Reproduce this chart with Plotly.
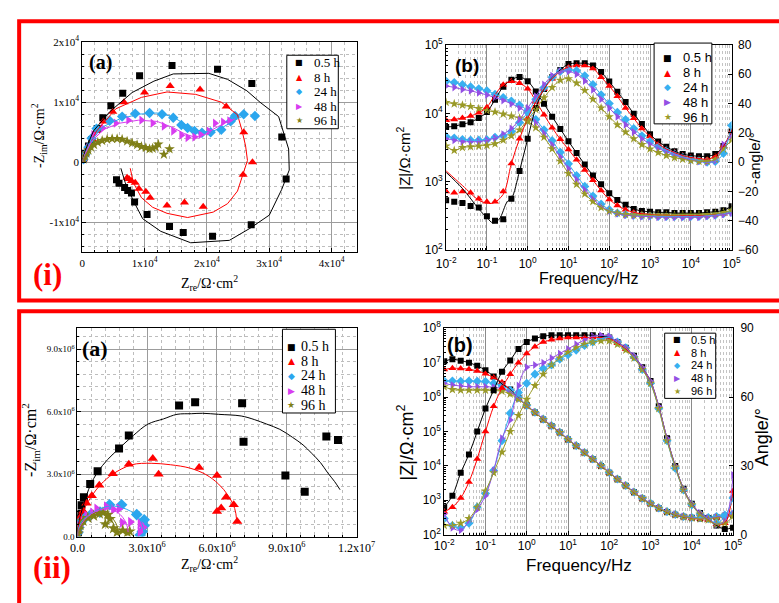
import plotly.graph_objects as go

W, H = 779, 603


def fx(p):
    return p / W


def fy(p):
    return 1 - p / H


SERIES = ["0.5 h", "8 h", "24 h", "48 h", "96 h"]
SYMBOLS = ["square", "triangle-up", "diamond", "triangle-right", "star"]
GLYPHS = ["\u25A0", "\u25B2", "\u25C6", "\u25B6", "\u2605"]
COL_A = ["#000000", "#FF0000", "#2BA6EE", "#D83CF0", "#7F7F18"]
COL_B = ["#000000", "#FF0000", "#38B0F0", "#9450E4", "#9A9A28"]
SERIF = "Liberation Serif, Times New Roman, serif"
SANS = "Liberation Sans, Arial, sans-serif"

# ---------------- (i)(a) Nyquist, values in 1e4 ohm cm2 ----------------
IA_BLACK_ZRE = [0.02, 0.05, 0.10, 0.15, 0.24, 0.33, 0.46, 0.65, 0.92, 1.44, 2.17, 2.72, 3.20, 3.27, 2.71, 2.09, 1.62, 1.40, 1.04, 0.84, 0.79, 0.73, 0.68, 0.59, 0.55]
IA_BLACK_ZIM = [0.06, 0.15, 0.27, 0.38, 0.56, 0.74, 0.94, 1.15, 1.44, 1.61, 1.55, 1.31, 0.42, -0.28, -1.04, -1.23, -1.17, -1.07, -0.87, -0.66, -0.51, -0.47, -0.42, -0.35, -0.29]
IA_RED_ZRE = [0.02, 0.05, 0.10, 0.17, 0.23, 0.34, 0.49, 0.67, 1.00, 1.41, 1.89, 2.31, 2.59, 2.73, 2.58, 1.94, 1.64, 1.36, 1.09, 1.02, 0.91, 0.85, 0.79, 0.75, 0.72]
IA_RED_ZIM = [0.05, 0.14, 0.25, 0.38, 0.52, 0.68, 0.84, 1.00, 1.16, 1.27, 1.21, 0.93, 0.50, 0.00, -0.21, -0.74, -0.67, -0.72, -0.59, -0.49, -0.44, -0.34, -0.31, -0.28, -0.26]
IA_CYAN_ZRE = [0.02, 0.05, 0.10, 0.15, 0.23, 0.44, 0.64, 0.85, 1.08, 1.28, 1.46, 1.59, 1.69, 1.80, 1.92, 2.06, 2.23, 2.38, 2.45, 2.59, 2.77]
IA_CYAN_ZIM = [0.05, 0.13, 0.25, 0.40, 0.56, 0.69, 0.76, 0.81, 0.82, 0.80, 0.74, 0.62, 0.57, 0.52, 0.49, 0.50, 0.54, 0.68, 0.77, 0.80, 0.77]
IA_MAG_ZRE = [0.02, 0.05, 0.10, 0.18, 0.33, 0.54, 0.74, 0.95, 1.13, 1.31, 1.46, 1.59, 1.69, 1.80, 1.90, 2.03, 2.13, 2.26, 2.36]
IA_MAG_ZIM = [0.05, 0.12, 0.24, 0.46, 0.57, 0.65, 0.70, 0.70, 0.65, 0.60, 0.52, 0.45, 0.41, 0.42, 0.46, 0.52, 0.65, 0.67, 0.69]
IA_OLIVE_ZRE = [0.02, 0.04, 0.07, 0.10, 0.14, 0.19, 0.25, 0.32, 0.40, 0.48, 0.56, 0.64, 0.72, 0.80, 0.88, 0.95, 1.02, 1.08, 1.13, 1.18, 1.22, 1.31, 1.40]
IA_OLIVE_ZIM = [0.05, 0.10, 0.15, 0.20, 0.25, 0.29, 0.33, 0.36, 0.38, 0.39, 0.39, 0.38, 0.35, 0.32, 0.29, 0.26, 0.24, 0.22, 0.23, 0.25, 0.30, 0.13, 0.22]

FIT_IA_BLACK_ZRE = [0, 0.05, 0.18, 0.44, 0.80, 1.15, 1.46, 2.03, 2.33, 2.64, 2.85, 3.15, 3.31, 3.32, 3.20, 3.00, 2.69, 2.36, 1.74, 1.26, 0.97, 0.82, 0.69, 0.62]
FIT_IA_BLACK_ZIM = [0, 0.20, 0.52, 0.84, 1.16, 1.35, 1.47, 1.48, 1.38, 1.19, 1.00, 0.76, 0.22, -0.13, -0.45, -0.88, -1.10, -1.30, -1.34, -1.15, -0.94, -0.64, -0.34, -0.10]
FIT_IA_RED_ZRE = [0, 0.08, 0.23, 0.54, 0.95, 1.36, 1.82, 2.23, 2.49, 2.56, 2.62, 2.65, 2.49, 2.33, 2.10, 1.69, 1.36, 1.13, 0.95, 0.82, 0.77]
FIT_IA_RED_ZIM = [0, 0.22, 0.52, 0.89, 1.08, 1.17, 1.13, 1.00, 0.79, 0.54, 0.27, 0.03, -0.48, -0.69, -0.83, -0.92, -0.85, -0.75, -0.59, -0.34, -0.10]
FIT_IA_CYAN_ZRE = [0, 0.05, 0.15, 0.35, 0.60, 0.90, 1.20, 1.45, 1.65, 1.85, 2.05, 2.25, 2.45, 2.65]
FIT_IA_CYAN_ZIM = [0, 0.15, 0.38, 0.60, 0.72, 0.80, 0.82, 0.76, 0.63, 0.53, 0.50, 0.58, 0.70, 0.81]
FIT_IA_MAG_ZRE = [0, 0.05, 0.15, 0.35, 0.60, 0.90, 1.20, 1.45, 1.65, 1.80, 1.95, 2.10, 2.30, 2.45]
FIT_IA_MAG_ZIM = [0, 0.14, 0.35, 0.55, 0.65, 0.70, 0.68, 0.58, 0.47, 0.42, 0.45, 0.55, 0.66, 0.72]
FIT_IA_OLIVE_ZRE = [0, 0.04, 0.10, 0.20, 0.40, 0.60, 0.80, 1.00, 1.10, 1.20, 1.25]
FIT_IA_OLIVE_ZIM = [0, 0.10, 0.20, 0.30, 0.38, 0.39, 0.33, 0.25, 0.22, 0.27, 0.32]

# ---------------- (ii)(a) Nyquist, values in 1e6 ohm cm2 ----------------
IIA_BLACK_ZRE = [0.02, 0.04, 0.08, 0.11, 0.17, 0.28, 0.55, 0.87, 1.79, 2.21, 4.37, 5.06, 7.08, 7.14, 8.94, 9.77, 10.70, 11.20]
IIA_BLACK_ZIM = [0.20, 0.50, 0.87, 1.10, 1.50, 1.89, 2.52, 3.14, 4.23, 4.85, 6.29, 6.45, 6.40, 4.55, 2.93, 2.15, 4.81, 4.64]
IIA_RED_ZRE = [0.03, 0.07, 0.14, 0.25, 0.39, 0.62, 0.94, 1.52, 2.21, 3.24, 3.49, 5.23, 6.00, 6.00, 6.18, 6.39, 6.72, 6.87]
IIA_RED_ZIM = [0.30, 0.64, 0.95, 1.22, 1.60, 1.96, 2.46, 3.02, 3.47, 3.75, 2.99, 3.32, 2.93, 1.21, 1.37, 1.89, 1.53, 0.73]
IIA_CYAN_ZRE = [0.02, 0.06, 0.15, 0.30, 0.55, 0.97, 1.38, 1.90, 2.55, 2.87, 2.87, 2.79, 2.70]
IIA_CYAN_ZIM = [0.20, 0.45, 0.70, 0.88, 1.03, 1.18, 1.53, 1.53, 1.06, 0.81, 0.53, 0.25, 0.08]
IIA_MAG_ZRE = [0.03, 0.08, 0.20, 0.40, 0.65, 0.83, 1.24, 1.55, 1.79, 1.93, 2.28, 2.69, 2.83, 2.69]
IIA_MAG_ZIM = [0.20, 0.50, 0.80, 1.00, 1.15, 1.34, 1.45, 1.30, 1.34, 0.67, 0.70, 0.62, 0.45, 0.23]
IIA_OLIVE_ZRE = [0.02, 0.06, 0.12, 0.25, 0.45, 0.70, 0.95, 1.10, 1.30, 1.40, 1.20, 1.55, 1.70, 1.95, 2.15, 2.25]
IIA_OLIVE_ZIM = [0.15, 0.35, 0.55, 0.75, 0.90, 1.00, 1.10, 1.15, 1.05, 0.85, 0.60, 0.40, 0.20, 0.30, 0.20, 0.25]

FIT_IIA_BLACK_ZRE = [0, 0.05, 0.15, 0.30, 0.55, 0.87, 1.30, 1.79, 2.40, 3.03, 3.70, 4.28, 4.90, 5.38, 6.07, 7.04, 7.60, 8.14, 8.70, 9.24, 9.70, 10.07, 10.45, 10.76, 11.05, 11.29]
FIT_IIA_BLACK_ZIM = [0, 0.60, 1.10, 1.65, 2.45, 3.10, 3.70, 4.23, 4.85, 5.40, 5.65, 5.87, 5.90, 5.92, 5.87, 5.79, 5.62, 5.40, 5.15, 4.77, 4.40, 4.00, 3.55, 3.06, 2.65, 2.25]
FIT_IIA_RED_ZRE = [0, 0.05, 0.15, 0.35, 0.62, 1.00, 1.52, 2.34, 3.17, 4.00, 4.83, 5.52, 6.07, 6.48, 6.76, 6.85]
FIT_IIA_RED_ZIM = [0, 0.50, 0.95, 1.45, 1.96, 2.50, 3.00, 3.45, 3.52, 3.45, 3.29, 2.98, 2.52, 1.97, 1.35, 0.75]
FIT_IIA_CYAN_ZRE = [0, 0.05, 0.20, 0.50, 0.90, 1.30, 1.70, 2.10, 2.45, 2.70, 2.82, 2.85]
FIT_IIA_CYAN_ZIM = [0, 0.40, 0.75, 1.05, 1.30, 1.45, 1.45, 1.32, 1.10, 0.80, 0.45, 0.20]
FIT_IIA_MAG_ZRE = [0, 0.10, 0.30, 0.60, 0.95, 1.30, 1.60, 1.85, 2.05, 2.15, 2.18]
FIT_IIA_MAG_ZIM = [0, 0.45, 0.80, 1.10, 1.28, 1.33, 1.25, 1.05, 0.75, 0.45, 0.22]
FIT_IIA_OLIVE_ZRE = [0, 0.10, 0.30, 0.60, 0.90, 1.20, 1.45, 1.65, 1.75, 1.78]
FIT_IIA_OLIVE_ZIM = [0, 0.40, 0.70, 0.95, 1.10, 1.10, 0.95, 0.65, 0.35, 0.10]

# ---------------- Bode plots ----------------
FREQ_HZ = [0.01, 0.0158, 0.0251, 0.0398, 0.0631, 0.1, 0.158, 0.251, 0.398, 0.631,
           1.0, 1.58, 2.51, 3.98, 6.31, 10, 15.8, 25.1, 39.8, 63.1,
           100, 158, 251, 398, 631, 1000, 1585, 2512, 3981, 6310,
           10000, 15850, 25120, 39810, 63100, 100000]

# (i)(b) log10(|Z| / ohm cm2)
IB_LOGZ_BLACK = [3.80, 3.81, 3.84, 3.87, 3.93, 4.02, 4.20, 4.39, 4.49, 4.53, 4.47, 4.32, 4.14, 3.95, 3.77, 3.59, 3.42, 3.25, 3.09, 2.96, 2.83, 2.73, 2.66, 2.60, 2.57, 2.56, 2.55, 2.55, 2.54, 2.54, 2.54, 2.54, 2.55, 2.56, 2.58, 2.64]
IB_LOGZ_RED = [3.90, 3.91, 3.93, 3.96, 4.01, 4.09, 4.27, 4.42, 4.47, 4.44, 4.36, 4.18, 3.98, 3.79, 3.62, 3.47, 3.32, 3.17, 3.02, 2.87, 2.74, 2.65, 2.59, 2.55, 2.53, 2.52, 2.51, 2.51, 2.50, 2.50, 2.50, 2.50, 2.51, 2.52, 2.53, 2.55]
IB_LOGZ_CYAN = [4.47, 4.45, 4.42, 4.39, 4.36, 4.33, 4.28, 4.23, 4.18, 4.12, 4.04, 3.91, 3.76, 3.60, 3.43, 3.26, 3.09, 2.93, 2.79, 2.67, 2.59, 2.54, 2.52, 2.51, 2.50, 2.50, 2.49, 2.49, 2.49, 2.49, 2.49, 2.49, 2.50, 2.51, 2.53, 2.55]
IB_LOGZ_PURPLE = [4.40, 4.38, 4.35, 4.33, 4.30, 4.27, 4.23, 4.19, 4.14, 4.08, 4.00, 3.87, 3.71, 3.54, 3.36, 3.19, 3.03, 2.88, 2.75, 2.64, 2.57, 2.53, 2.51, 2.50, 2.49, 2.49, 2.48, 2.48, 2.48, 2.48, 2.48, 2.48, 2.49, 2.50, 2.52, 2.54]
IB_LOGZ_OLIVE = [4.16, 4.14, 4.12, 4.10, 4.07, 4.04, 4.02, 3.99, 3.96, 3.93, 3.88, 3.79, 3.65, 3.48, 3.30, 3.12, 2.96, 2.82, 2.71, 2.62, 2.57, 2.54, 2.52, 2.51, 2.51, 2.51, 2.51, 2.51, 2.51, 2.52, 2.52, 2.52, 2.52, 2.53, 2.55, 2.58]
# (i)(b) -phase angle (deg)
IB_PH_BLACK = [-26, -27, -28, -30, -31, -37, -40, -39, -25, -6, 16, 37, 50, 58, 63, 67, 67.5, 67.5, 66, 61.5, 55, 48, 41, 33, 26, 19, 14, 10.5, 7.5, 5.5, 4.5, 4, 4, 5.5, 11, 21]
IB_PH_RED = [-20, -21, -20, -21, -25, -27, -27, -20, -1, 16, 30, 41, 50, 57, 62, 65, 66, 66, 64, 58, 52, 45, 37, 30, 23, 17.5, 12.5, 9, 6.5, 4.5, 3.2, 2.5, 2, 4, 11, 21]
IB_PH_CYAN = [17.5, 16.5, 15.5, 15, 15, 15.3, 17, 18, 21, 27, 34, 43, 51, 58, 62, 63, 62.5, 59, 53, 46, 40, 34, 29, 23, 18, 14, 10.5, 8, 5.5, 3.5, 2, 1, 0, 0.5, 6, 25]
IB_PH_PURPLE = [16, 15, 14, 14, 14, 15, 16.5, 19, 23, 29, 37, 45, 53, 59, 62, 62, 60, 55.5, 49.5, 43, 37, 31, 25.5, 20.5, 16, 12.5, 9.5, 7, 5, 3, 1.5, 0.5, 0, 1, 12, 18]
IB_PH_OLIVE = [11, 8, 10, 10.5, 11, 11.5, 12.5, 15, 18, 22, 29, 36, 44, 51, 56, 57, 54, 49, 43, 37, 31, 25.5, 20.5, 16, 12, 9, 6.5, 4.5, 3, 2, 1, 0.5, 0.5, 2, 9, 15]
# (i)(b) low-frequency part of the fitted phase curves (deviates from the data)
IB_FIT_LOW_FREQ_BLACK = [0.01, 0.0251, 0.0631, 0.1, 0.141, 0.2, 0.316]
IB_FIT_LOW_PH_BLACK = [-7, -18, -32, -38, -41.5, -39, -27]
IB_FIT_LOW_FREQ_RED = [0.01, 0.0251, 0.0631, 0.1, 0.141, 0.251]
IB_FIT_LOW_PH_RED = [-6, -16, -26, -28, -28, -22]

# (ii)(b) log10(|Z| / ohm cm2)
IIB_LOGZ_BLACK = [7.04, 7.10, 7.06, 7.00, 6.91, 6.78, 6.60, 6.38, 6.22, 5.98, 5.76, 5.55, 5.35, 5.16, 4.97, 4.77, 4.58, 4.38, 4.19, 4.00, 3.80, 3.61, 3.42, 3.23, 3.05, 2.90, 2.77, 2.66, 2.58, 2.52, 2.49, 2.47, 2.48, 2.51, 2.55, 2.58]
IIB_LOGZ_RED = [6.80, 6.84, 6.83, 6.81, 6.76, 6.68, 6.57, 6.43, 6.20, 5.97, 5.75, 5.55, 5.35, 5.16, 4.97, 4.77, 4.58, 4.38, 4.19, 4.00, 3.80, 3.61, 3.42, 3.23, 3.05, 2.90, 2.77, 2.66, 2.58, 2.52, 2.48, 2.46, 2.47, 2.50, 2.54, 2.57]
IIB_LOGZ_CYAN = [6.47, 6.47, 6.46, 6.47, 6.46, 6.45, 6.40, 6.33, 6.20, 5.98, 5.76, 5.56, 5.36, 5.17, 4.98, 4.78, 4.59, 4.39, 4.20, 4.01, 3.81, 3.62, 3.43, 3.24, 3.06, 2.91, 2.78, 2.67, 2.59, 2.53, 2.50, 2.49, 2.50, 2.53, 2.57, 2.60]
IIB_LOGZ_PURPLE = [6.40, 6.35, 6.32, 6.30, 6.30, 6.30, 6.29, 6.25, 6.14, 5.96, 5.76, 5.56, 5.36, 5.17, 4.98, 4.78, 4.59, 4.39, 4.20, 4.01, 3.81, 3.62, 3.43, 3.24, 3.06, 2.91, 2.78, 2.67, 2.59, 2.53, 2.49, 2.47, 2.48, 2.51, 2.55, 2.59]
IIB_LOGZ_OLIVE = [6.30, 6.22, 6.20, 6.20, 6.20, 6.20, 6.19, 6.17, 6.09, 5.94, 5.75, 5.55, 5.35, 5.16, 4.97, 4.77, 4.58, 4.38, 4.19, 4.00, 3.80, 3.61, 3.42, 3.23, 3.05, 2.90, 2.77, 2.66, 2.58, 2.52, 2.48, 2.46, 2.47, 2.49, 2.53, 2.56]
# (ii)(b) phase angle (deg)
IIB_PH_BLACK = [12, 17, 27, 35, 45, 55, 63, 71, 76, 81, 84, 85.5, 86.5, 87, 87, 87, 87, 87, 87, 86.5, 86, 84, 81.5, 78, 73, 67, 56, 42, 30, 20, 13.5, 9.5, 7, 4, 2.5, 3]
IIB_PH_RED = [10, 12, 16, 23, 33, 45, 56, 64, 70, 75, 79, 82, 84, 85, 85.5, 86, 86, 86, 86, 86, 85.5, 83.5, 81, 77.5, 72.5, 66.5, 55.5, 41.5, 29.5, 19.5, 13, 9, 6.5, 4.5, 5, 19]
IIB_PH_CYAN = [7, 4, 3, 5, 12, 18, 28, 41, 53, 62, 66, 70, 72.5, 74, 76.5, 78.5, 80.5, 82.5, 84, 85.5, 86, 84, 81.5, 77.5, 72, 66, 55, 41, 29, 19.5, 13, 9, 7, 5, 8, 16]
IIB_PH_PURPLE = [9, 3, 2, 6, 11, 17, 28, 42, 50, 65, 73, 74, 75, 77, 79, 81, 83, 85, 86.5, 87, 86.5, 84, 81.5, 78, 73, 67, 56, 42, 30, 20, 13.5, 9.5, 7, 4.5, 6, 26]
IIB_PH_OLIVE = [4, 4, 5, 7, 12, 19, 27, 36, 45, 52, 59, 65, 70, 74, 77, 79.5, 81.5, 83, 84, 84.5, 84.5, 83, 80.5, 77, 72, 66, 55, 41, 29.5, 19.5, 13, 9, 6.5, 4.5, 5, 8]

# ---------------- tick labels ----------------
IA_XTICKS = [0, 1, 2, 3, 4]
IA_XTEXT = ["0", "1x10<sup>4</sup>", "2x10<sup>4</sup>", "3x10<sup>4</sup>", "4x10<sup>4</sup>"]
IA_YTICKS = [-1, 0, 1, 2]
IA_YTEXT = ["-1x10<sup>4</sup>", "0", "1x10<sup>4</sup>", "2x10<sup>4</sup>"]
IIA_XTICKS = [0, 3, 6, 9, 12]
IIA_XTEXT = ["0.0", "3.0x10<sup>6</sup>", "6.0x10<sup>6</sup>", "9.0x10<sup>6</sup>", "1.2x10<sup>7</sup>"]
IIA_YTICKS = [0, 3, 6, 9]
IIA_YTEXT = ["0.0", "3.0x10<sup>6</sup>", "6.0x10<sup>6</sup>", "9.0x10<sup>6</sup>"]
FREQ_TICKS = [0.01, 0.1, 1, 10, 100, 1000, 10000, 100000]
FREQ_TEXT = ["10<sup>-2</sup>", "10<sup>-1</sup>", "10<sup>0</sup>", "10<sup>1</sup>", "10<sup>2</sup>",
             "10<sup>3</sup>", "10<sup>4</sup>", "10<sup>5</sup>"]
IB_ZTICKS = [100, 1000, 10000, 100000]
IB_ZTEXT = ["10<sup>2</sup>", "10<sup>3</sup>", "10<sup>4</sup>", "10<sup>5</sup>"]
IIB_ZTICKS = [1e2, 1e3, 1e4, 1e5, 1e6, 1e7, 1e8]
IIB_ZTEXT = ["10<sup>2</sup>", "10<sup>3</sup>", "10<sup>4</sup>", "10<sup>5</sup>", "10<sup>6</sup>",
             "10<sup>7</sup>", "10<sup>8</sup>"]

IA_DATA = [(IA_BLACK_ZRE, IA_BLACK_ZIM), (IA_RED_ZRE, IA_RED_ZIM), (IA_CYAN_ZRE, IA_CYAN_ZIM),
           (IA_MAG_ZRE, IA_MAG_ZIM), (IA_OLIVE_ZRE, IA_OLIVE_ZIM)]
IA_FIT = [(FIT_IA_BLACK_ZRE, FIT_IA_BLACK_ZIM), (FIT_IA_RED_ZRE, FIT_IA_RED_ZIM), (FIT_IA_CYAN_ZRE, FIT_IA_CYAN_ZIM),
          (FIT_IA_MAG_ZRE, FIT_IA_MAG_ZIM), (FIT_IA_OLIVE_ZRE, FIT_IA_OLIVE_ZIM)]
IIA_DATA = [(IIA_BLACK_ZRE, IIA_BLACK_ZIM), (IIA_RED_ZRE, IIA_RED_ZIM), (IIA_CYAN_ZRE, IIA_CYAN_ZIM),
            (IIA_MAG_ZRE, IIA_MAG_ZIM), (IIA_OLIVE_ZRE, IIA_OLIVE_ZIM)]
IIA_FIT = [(FIT_IIA_BLACK_ZRE, FIT_IIA_BLACK_ZIM), (FIT_IIA_RED_ZRE, FIT_IIA_RED_ZIM),
           (FIT_IIA_CYAN_ZRE, FIT_IIA_CYAN_ZIM), (FIT_IIA_MAG_ZRE, FIT_IIA_MAG_ZIM),
           (FIT_IIA_OLIVE_ZRE, FIT_IIA_OLIVE_ZIM)]
IB_LOGZ = [IB_LOGZ_BLACK, IB_LOGZ_RED, IB_LOGZ_CYAN, IB_LOGZ_PURPLE, IB_LOGZ_OLIVE]
IB_PH = [IB_PH_BLACK, IB_PH_RED, IB_PH_CYAN, IB_PH_PURPLE, IB_PH_OLIVE]
IIB_LOGZ = [IIB_LOGZ_BLACK, IIB_LOGZ_RED, IIB_LOGZ_CYAN, IIB_LOGZ_PURPLE, IIB_LOGZ_OLIVE]
IIB_PH = [IIB_PH_BLACK, IIB_PH_RED, IIB_PH_CYAN, IIB_PH_PURPLE, IIB_PH_OLIVE]

fig = go.Figure()


def add_markers(xs, ys, xa, ya, color, symbol, size):
    fig.add_trace(go.Scatter(x=xs, y=ys, mode="markers", xaxis=xa, yaxis=ya,
                             marker=dict(symbol=symbol, size=size, color=color, line=dict(width=0)),
                             showlegend=False, hoverinfo="skip"))


def add_line(xs, ys, xa, ya, color, width=1.0, shape="linear"):
    fig.add_trace(go.Scatter(x=xs, y=ys, mode="lines", xaxis=xa, yaxis=ya,
                             line=dict(color=color, width=width, shape=shape),
                             showlegend=False, hoverinfo="skip"))


A_SIZES = [7, 8, 8, 8, 8]
B_SIZES = [6, 7, 7, 7, 7]

for k in range(5):
    add_markers(IA_DATA[k][0], IA_DATA[k][1], "x", "y", COL_A[k], SYMBOLS[k], A_SIZES[k])
for k in range(5):
    add_line(IA_FIT[k][0], IA_FIT[k][1], "x", "y", COL_A[k], 1.0, "linear")

for k in range(5):
    add_markers(IIA_DATA[k][0], IIA_DATA[k][1], "x3", "y4", COL_A[k], SYMBOLS[k], A_SIZES[k] + 1)
for k in range(5):
    add_line(IIA_FIT[k][0], IIA_FIT[k][1], "x3", "y4", COL_A[k], 1.0, "spline")

for k in range(5):
    zmag = [10 ** v for v in IB_LOGZ[k]]
    add_markers(FREQ_HZ, zmag, "x2", "y2", COL_B[k], SYMBOLS[k], B_SIZES[k])
    add_markers(FREQ_HZ, IB_PH[k], "x2", "y3", COL_B[k], SYMBOLS[k], B_SIZES[k])
for k in range(5):
    zmag = [10 ** v for v in IB_LOGZ[k]]
    add_line(FREQ_HZ, zmag, "x2", "y2", COL_B[k], 1.0, "spline")
    if k == 0:
        add_line(IB_FIT_LOW_FREQ_BLACK + FREQ_HZ[8:], IB_FIT_LOW_PH_BLACK + IB_PH_BLACK[8:],
                 "x2", "y3", COL_B[k], 1.0, "spline")
    elif k == 1:
        add_line(IB_FIT_LOW_FREQ_RED + FREQ_HZ[8:], IB_FIT_LOW_PH_RED + IB_PH_RED[8:],
                 "x2", "y3", COL_B[k], 1.0, "spline")
    else:
        add_line(FREQ_HZ, IB_PH[k], "x2", "y3", COL_B[k], 1.0, "spline")

for k in range(5):
    zmag = [10 ** v for v in IIB_LOGZ[k]]
    add_markers(FREQ_HZ, zmag, "x4", "y5", COL_B[k], SYMBOLS[k], B_SIZES[k])
    add_markers(FREQ_HZ, IIB_PH[k], "x4", "y6", COL_B[k], SYMBOLS[k], B_SIZES[k])
for k in range(5):
    zmag = [10 ** v for v in IIB_LOGZ[k]]
    add_line(FREQ_HZ, zmag, "x4", "y5", COL_B[k], 1.0, "spline")
    add_line(FREQ_HZ, IIB_PH[k], "x4", "y6", COL_B[k], 1.0, "spline")

# ---------------- axes ----------------
MINOR_LOG_X = [m * 10.0 ** e for e in range(-2, 5) for m in range(2, 10)]
MINOR_LOG_Y1 = [m * 10.0 ** e for e in range(2, 5) for m in range(2, 10)]
MINOR_LOG_Y2 = [m * 10.0 ** e for e in range(2, 8) for m in range(2, 10)]


def base_axis(font_family, font_size):
    return dict(showline=True, linecolor="black", linewidth=1, mirror=True, ticks="inside",
                ticklen=4, tickcolor="black", zeroline=False,
                tickfont=dict(family=font_family, size=font_size, color="black"))


def a_grid(dt):
    return dict(showgrid=True, gridcolor="#9c9c9c", gridwidth=1,
                minor=dict(dtick=dt, tick0=0, showgrid=True, gridcolor="#bdbdbd", griddash="dot",
                           gridwidth=1, ticks="inside", ticklen=2, tickcolor="black"))


layout = dict(width=W, height=H, margin=dict(l=0, r=0, t=0, b=0), paper_bgcolor="white",
              plot_bgcolor="white", showlegend=False)

xa = base_axis(SERIF, 11)
xa.update(a_grid(0.2))
xa.update(domain=[fx(75), fx(360)], anchor="y", range=[0, 4.4], tickmode="array",
          tickvals=IA_XTICKS, ticktext=IA_XTEXT)
ya = base_axis(SERIF, 11)
ya.update(a_grid(0.2))
ya.update(domain=[fy(250), fy(34)], anchor="x", range=[-1.5, 2.0], tickmode="array",
          tickvals=IA_YTICKS, ticktext=IA_YTEXT)

xa3 = base_axis(SERIF, 12)
xa3.update(a_grid(0.6))
xa3.update(domain=[fx(70), fx(360)], anchor="y4", range=[0, 12], tickmode="array",
           tickvals=IIA_XTICKS, ticktext=IIA_XTEXT)
ya4 = base_axis(SERIF, 9)
ya4.update(a_grid(0.6))
ya4.update(domain=[fy(542), fy(328)], anchor="x3", range=[0, 10], tickmode="array",
           tickvals=IIA_YTICKS, ticktext=IIA_YTEXT)


def bode_x(dom, anchor, standoff):
    ax = base_axis(SANS, 12)
    ax.update(type="log", domain=dom, anchor=anchor, range=[-2, 5], tickmode="array",
              tickvals=FREQ_TICKS, ticktext=FREQ_TEXT, showgrid=True, gridcolor="#8a8a8a", gridwidth=1,
              ticklabelstandoff=standoff,
              minor=dict(tickmode="array", tickvals=MINOR_LOG_X, showgrid=True, gridcolor="#c4c4c4",
                         griddash="dot", gridwidth=1, ticks="inside", ticklen=2, tickcolor="black"))
    return ax


xa2 = bode_x([fx(453), fx(749.5)], "y2", 3)
ya2 = base_axis(SANS, 12)
ya2.update(type="log", domain=[fy(247.5), fy(37)], anchor="x2", range=[2, 5], tickmode="array",
           tickvals=IB_ZTICKS, ticktext=IB_ZTEXT, showgrid=False, mirror=False,
           minor=dict(tickmode="array", tickvals=MINOR_LOG_Y1, ticks="inside", ticklen=2, tickcolor="black"))
ya3 = base_axis(SANS, 12)
ya3.update(overlaying="y2", anchor="x2", side="right", range=[-60, 80], tickmode="linear", tick0=-60,
           dtick=20, showgrid=False, mirror=False, ticklabelstandoff=3)

xa4 = bode_x([fx(451), fx(751)], "y5", 0)
ya5 = base_axis(SANS, 12)
ya5.update(type="log", domain=[fy(540), fy(328)], anchor="x4", range=[2, 8], tickmode="array",
           tickvals=IIB_ZTICKS, ticktext=IIB_ZTEXT, showgrid=False, mirror=False,
           minor=dict(tickmode="array", tickvals=MINOR_LOG_Y2, ticks="inside", ticklen=2, tickcolor="black"))
ya6 = base_axis(SANS, 12)
ya6.update(overlaying="y5", anchor="x4", side="right", range=[0, 90], tickmode="linear", tick0=0,
           dtick=30, showgrid=False, mirror=False, ticklabelstandoff=4)

layout.update(xaxis=xa, yaxis=ya, xaxis2=xa2, yaxis2=ya2, yaxis3=ya3,
              xaxis3=xa3, yaxis4=ya4, xaxis4=xa4, yaxis5=ya5, yaxis6=ya6)
fig.update_layout(**layout)

# ---------------- frames, legends, labels ----------------
shapes = [
    dict(type="rect", xref="paper", yref="paper", x0=fx(9.5), x1=fx(820), y0=fy(299.5), y1=fy(12.5),
         line=dict(color="#FF0000", width=4), fillcolor="rgba(0,0,0,0)", layer="above"),
    dict(type="rect", xref="paper", yref="paper", x0=fx(9.5), x1=fx(820), y0=fy(650), y1=fy(310.5),
         line=dict(color="#FF0000", width=4), fillcolor="rgba(0,0,0,0)", layer="above"),
]
annotations = []

LEGENDS = [
    dict(box=(287.5, 47.5, 341, 123), gx=300.5, tx=314, rows=[55, 70, 85, 100, 115], font=SERIF, ts=13, gs=8,
         cols=COL_A),
    dict(box=(669, 35, 729, 118), gx=683, tx=697, rows=[50, 65.3, 80.5, 95.8, 111], font=SANS, ts=13, gs=9,
         cols=COL_B),
    dict(box=(283, 329, 338, 415), gx=292, tx=300, rows=[346.7, 361.8, 377, 392.2, 407.3], font=SERIF, ts=14,
         gs=9, cols=COL_A),
    dict(box=(680, 333, 733, 400), gx=693, tx=705, rows=[340, 353, 366, 379.5, 392.7], font=SANS, ts=11, gs=8,
         cols=COL_B),
]
for lg in LEGENDS:
    x0, y0, x1, y1 = lg["box"]
    shapes.append(dict(type="rect", xref="paper", yref="paper", x0=fx(x0), x1=fx(x1), y0=fy(y1), y1=fy(y0),
                       line=dict(color="black", width=1), fillcolor="white", layer="above"))
    for k in range(5):
        annotations.append(dict(xref="paper", yref="paper", x=fx(lg["gx"]), y=fy(lg["rows"][k]),
                                text=GLYPHS[k], showarrow=False, xanchor="center", yanchor="middle",
                                font=dict(family="DejaVu Sans", size=lg["gs"], color=lg["cols"][k])))
        annotations.append(dict(xref="paper", yref="paper", x=fx(lg["tx"]), y=fy(lg["rows"][k]),
                                text=SERIES[k], showarrow=False, xanchor="left", yanchor="middle",
                                font=dict(family=lg["font"], size=lg["ts"], color="black")))


def label(text, x, y, family, size, color="black", angle=0):
    annotations.append(dict(xref="paper", yref="paper", x=fx(x), y=fy(y), text=text, showarrow=False,
                            xanchor="center", yanchor="middle", textangle=angle,
                            font=dict(family=family, size=size, color=color)))


label("<b>(a)</b>", 94.5, 55, SERIF, 20)
label("<b>(b)</b>", 475, 58, SANS, 19)
label("<b>(a)</b>", 88, 349, SERIF, 22)
label("<b>(b)</b>", 467, 345, SANS, 20)
label("<b>(i)</b>", 39, 273, SERIF, 31, "#FF0000")
label("<b>(ii)</b>", 44, 574, SERIF, 31, "#FF0000")

label("-Z<sub>im</sub>/\u03A9\u00B7cm<sup>2</sup>", 29.5, 130, SERIF, 14, angle=-90)
label("Z<sub>re</sub>/\u03A9\u00B7cm<sup>2</sup>", 207, 281, SERIF, 14)
label("|Z|/\u03A9\u00B7cm<sup>2</sup>", 409, 153, SANS, 15, angle=-90)
label("-angle/\u00B0", 774, 153, SANS, 15, angle=-90)
label("Frequency/Hz", 601, 277, SANS, 16)
label("-Z<sub>im</sub>/\u03A9\u00B7cm<sup>2</sup>", 21.5, 443, SERIF, 16, angle=-90)
label("Z<sub>re</sub>/\u03A9\u00B7cm<sup>2</sup>", 207, 570, SERIF, 14)
label("|Z|/\u03A9\u00B7cm<sup>2</sup>", 410.5, 445, SANS, 18, angle=-90)
label("Frequency/Hz", 591, 572, SANS, 17)
label("Angle/\u00B0", 781, 440, SANS, 18, angle=-90)

fig.update_layout(shapes=shapes, annotations=annotations)
PAGE_FIX = ("var s=document.documentElement.style;s.margin='0px';s.padding='0px';s.overflow='hidden';"
            "var b=document.body.style;b.margin='0px';b.padding='0px';b.overflow='hidden';")
fig.write_html("out.html", config={"displayModeBar": False}, post_script=PAGE_FIX)
